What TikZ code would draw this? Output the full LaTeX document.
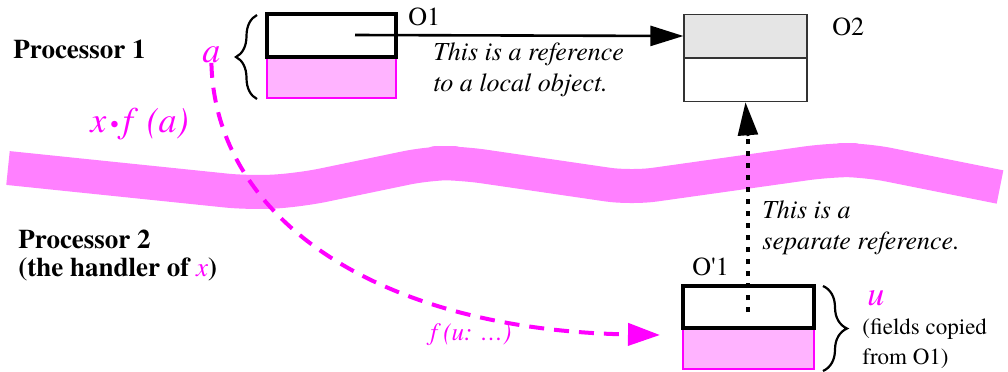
\documentclass[tikz,border=0pt]{standalone}
\usepackage{fontspec}
\setmainfont{texgyretermes}[Extension=.otf, UprightFont=*-regular, BoldFont=*-bold, ItalicFont=*-italic, BoldItalicFont=*-bolditalic]
\usepackage{xcolor}
\usetikzlibrary{arrows.meta,positioning,decorations.pathreplacing}
\definecolor{ink}{HTML}{000000}
\definecolor{magenta}{HTML}{FF00FF}
\definecolor{pinkfill}{HTML}{FFB3FF}
\definecolor{bandpink}{HTML}{FF80FF}
\definecolor{greyfill}{HTML}{E5E5E5}
\definecolor{greyline}{HTML}{333333}

\tikzset{
  label/.style={inner sep=0pt, anchor=base west, font=\fontsize{13}{16}\selectfont},
  note/.style={inner sep=0pt, anchor=north west, align=left, font=\fontsize{13}{15.5}\selectfont\itshape},
  refpart/.style={draw=ink, line width=1.6pt, fill=white, inner sep=0pt},
  fieldpart/.style={draw=magenta, line width=1.4pt, fill=pinkfill, inner sep=0pt},
  remotepart/.style={draw=greyline, line width=0.6pt, inner sep=0pt, minimum width=61.5pt, minimum height=21.5pt},
  band/.style={draw=bandpink, line width=17pt, line join=round, rounded corners=12pt},
  brace/.style={decorate, line width=1.1pt},
  refarrow/.style={draw=ink, line width=1.3pt, -{Triangle[length=16.5pt, width=10pt]}},
  sepline/.style={draw=ink, line width=2.3pt, dash pattern=on 2.3pt off 3.7pt},
  callarrow/.style={draw=magenta, line width=2pt, dash pattern=on 7.5pt off 5pt, -{Triangle[length=16pt, width=11pt]}}
}

\begin{document}
\begin{tikzpicture}[x=0.5pt, y=-0.5pt]
  \useasboundingbox (0,0) rectangle (1008,371);

  % boundary between the two processors
  \draw[band] (8,168) -- (250,193) -- (300,190) -- (430,163) -- (460,163) -- (631,188) -- (830,160) -- (865,160) -- (1000,187);

  % object O1 on processor 1
  \node[fieldpart, minimum width=64.5pt, minimum height=20.5pt] (o1b) at (331.5,77.5) {};
  \node[refpart, minimum width=64.5pt, minimum height=21.5pt] (o1a) at (331.5,35.5) {};
  \node[label] (o1lbl) at (408,25) {O1};
  \draw[brace, decoration={brace, amplitude=10.5pt}] (257,99) -- (257,15);
  \node[label, font=\fontsize{18}{20}\selectfont\itshape, text=magenta] (a) at (202,62) {a};

  % object O2
  \node[remotepart, fill=greyfill] (o2a) at (745.5,36) {};
  \node[remotepart, fill=white, below=0pt of o2a] (o2b) {};
  \node[label] (o2lbl) at (832,35) {O2};

  % copy O'1 on processor 2
  \node[fieldpart, minimum width=65.5pt, minimum height=20.5pt] (c1b) at (748.5,348.5) {};
  \node[refpart, minimum width=65.5pt, minimum height=21pt] (c1a) at (748.5,307) {};
  \node[label] (c1lbl) at (692,275) {O\textquotesingle1};
  \draw[brace, decoration={brace, amplitude=12pt}] (823,286) -- (823,371);
  \node[label, font=\fontsize{17}{18}\selectfont\itshape, text=magenta] (u) at (867,305) {u};
  \node[note, font=\fontsize{11.5}{15}\selectfont] (fields) at (862,318) {(fields copied\\from O1)};

  % processor labels
  \node[label, font=\fontsize{13.5}{16}\selectfont\bfseries] (proc1) at (13,58) {Processor 1};
  \node[label, font=\fontsize{13.5}{16}\selectfont\bfseries] (proc2) at (18,248) {Processor 2};
  \node[label, font=\fontsize{13.5}{16}\selectfont\bfseries] (proc2b) at (18,276) {(the handler of {\mdseries\itshape\color{magenta}x})};

  % references
  \coordinate (o1src) at (355,35);
  \draw[refarrow] (o1src) -- (o2a.west);
  \node[note] (localref) at (433,42) {This is a reference\\to a local object.};

  \coordinate (c1src) at (748,312);
  \coordinate (c1mid) at (748,136);
  \draw[sepline] (c1src) -- (c1mid);
  \draw[refarrow] (c1mid) -- (o2b.south);
  \node[note] (sepref) at (762,200) {This is a\\separate reference.};

  % remote call
  \node[label, font=\fontsize{18}{20}\selectfont\itshape, text=magenta] (call) at (90,132)
    {x\kern2pt{\fontsize{12}{12}\selectfont\upshape•}\kern2pt f\kern7pt(a)};
  \coordinate (c1in) at (660,335);
  \draw[callarrow] (a.south) .. controls (215,220) and (380,330) .. (c1in);
  \node[label, font=\fontsize{12.5}{14}\selectfont\itshape, text=magenta] (fu) at (430,340) {f\kern3pt(u: …)};
\end{tikzpicture}
\end{document}
